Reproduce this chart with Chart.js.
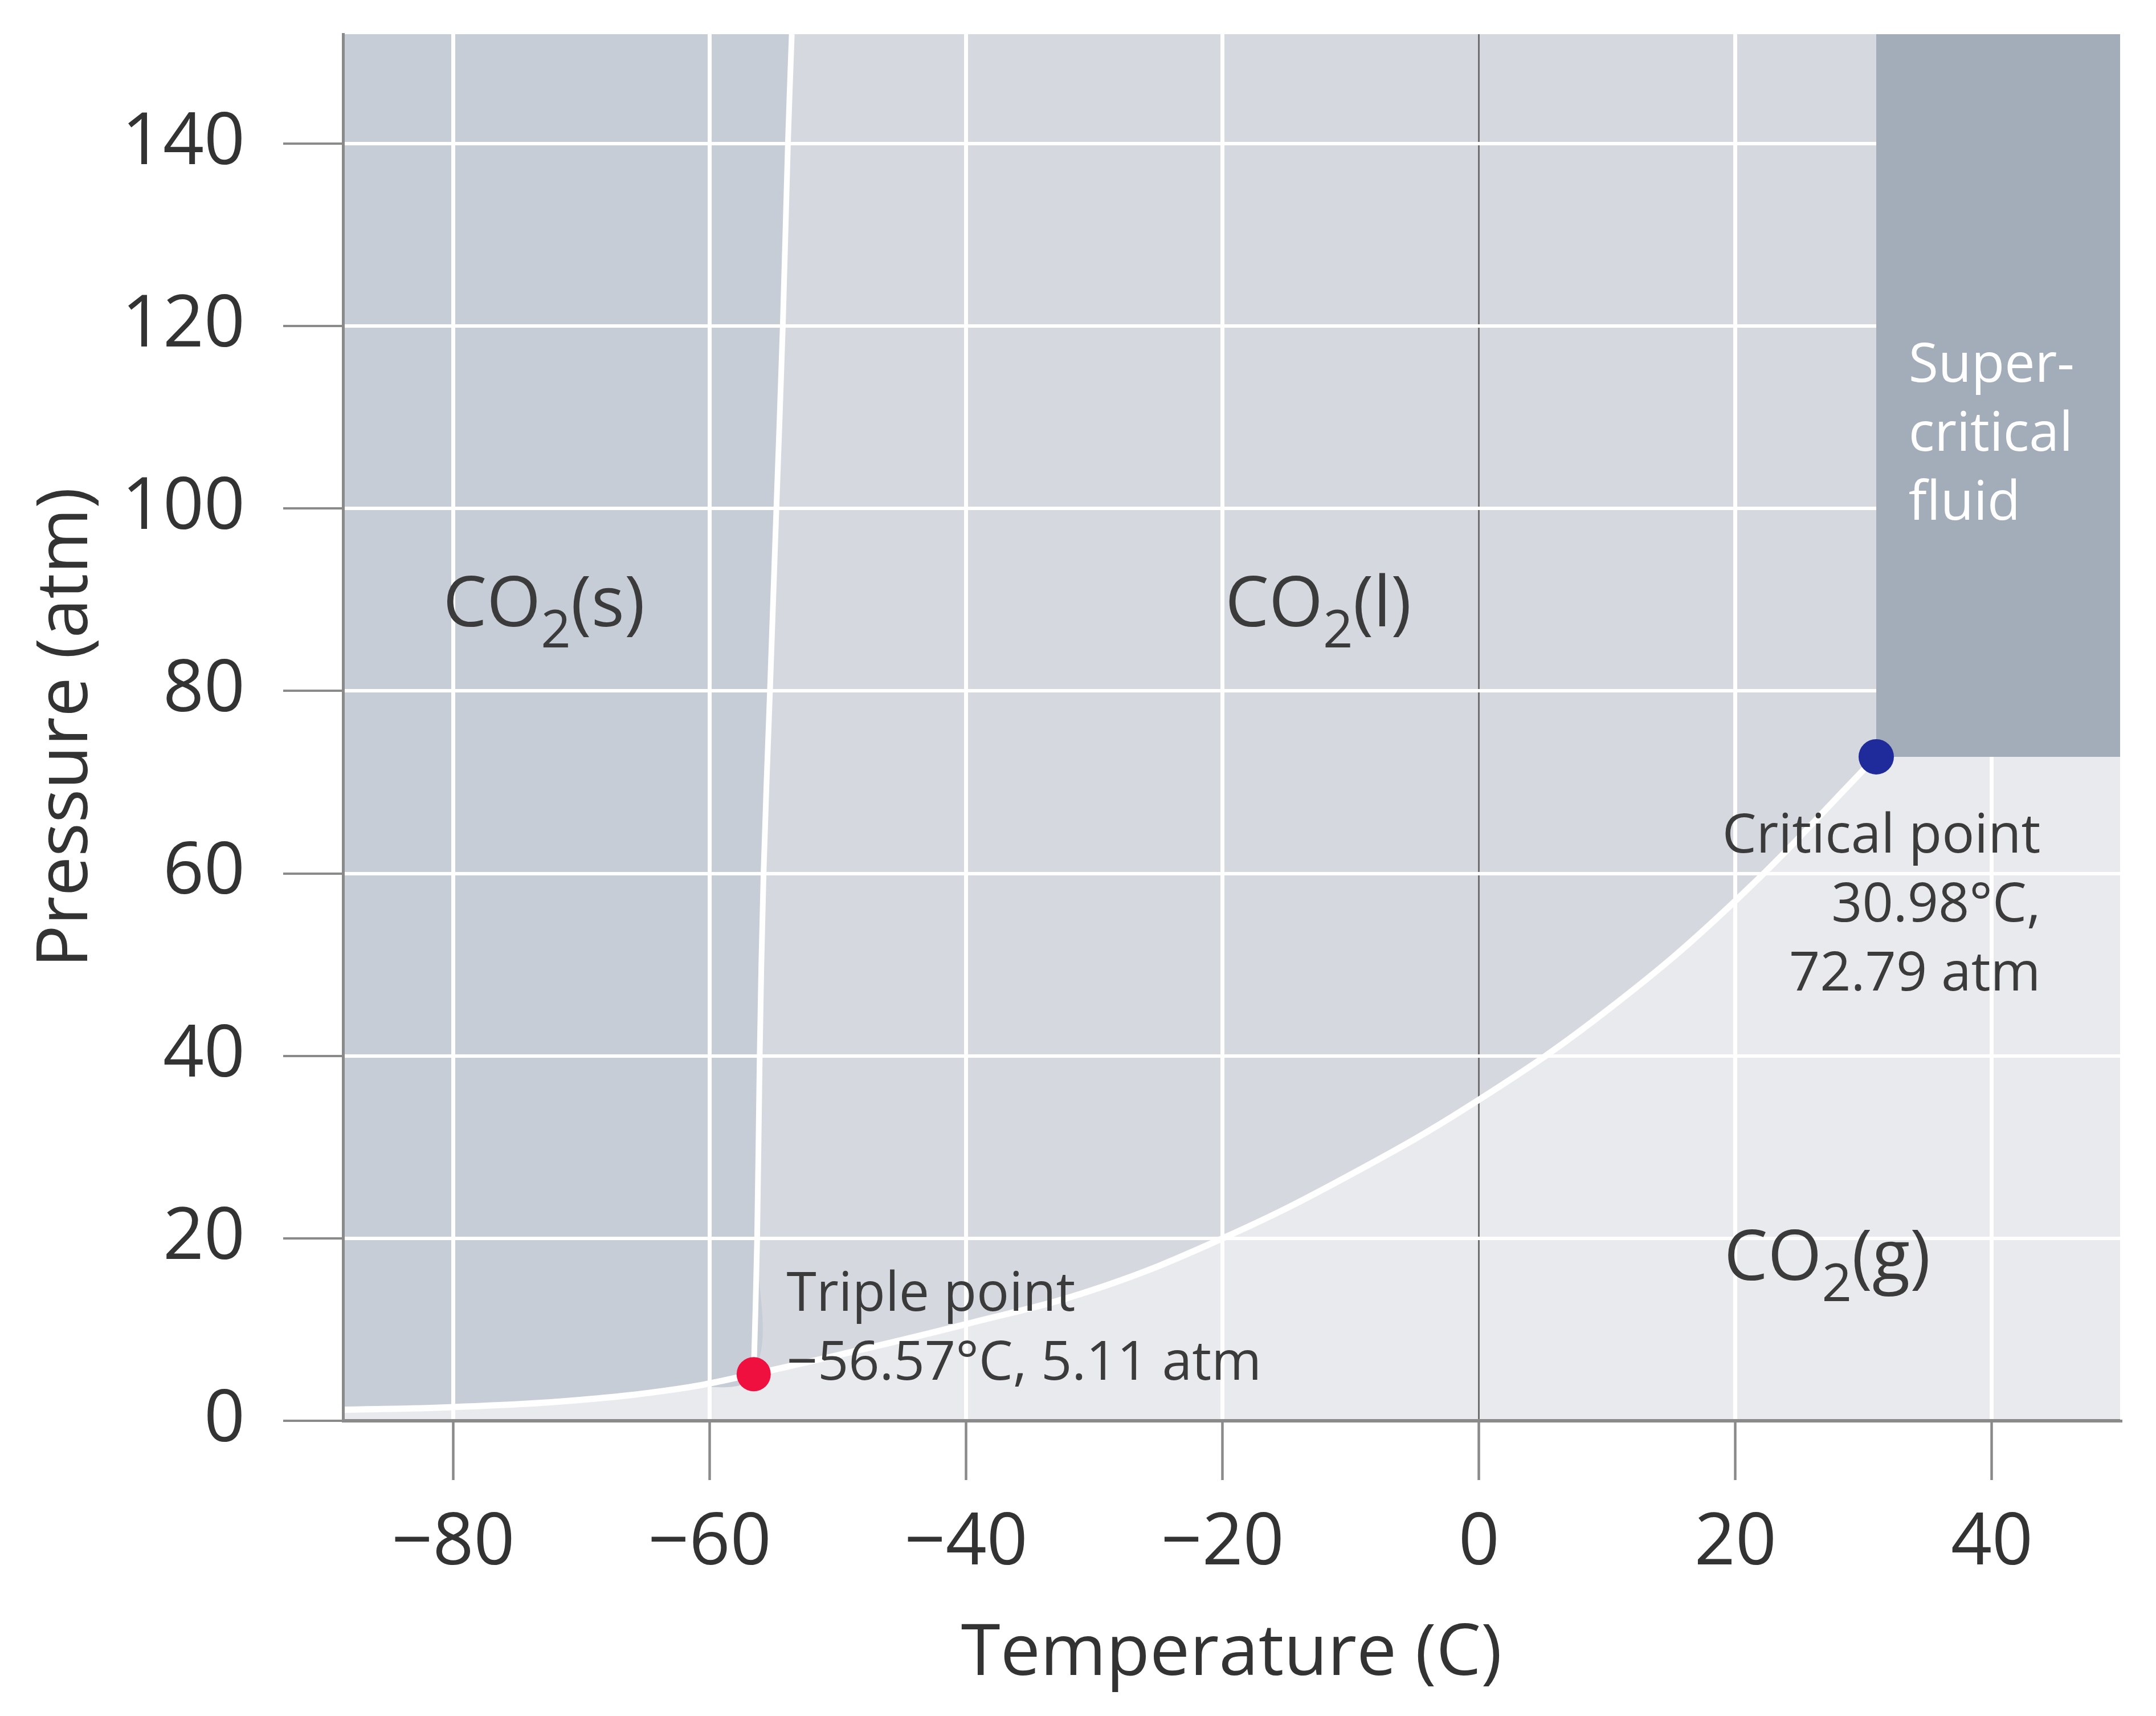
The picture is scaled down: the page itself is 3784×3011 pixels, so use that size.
<!DOCTYPE html>
<html>
<head>
<meta charset="utf-8">
<title>CO2 phase diagram</title>
<script src="https://cdn.jsdelivr.net/npm/chart.js@4.4.1/dist/chart.umd.min.js"></script>
<style>
  body { margin: 0; background: #fff; }
  #wrap { width: 3784px; height: 3011px; }
</style>
</head>
<body>
<div id="wrap"><canvas id="phaseChart" width="3784" height="3011"></canvas></div>
<script>
// axis ranges and ticks
const tempRange = [-88.6, 50];
const pressRange = [0, 152];
const tempTicks = [-80, -60, -40, -20, 0, 20, 40];
const pressTicks = [0, 20, 40, 60, 80, 100, 120, 140];

// solid / gas boundary (sublimation)
const sublimationT = [-88.6, -80, -70, -62, -56.57];
const sublimationP = [1.2, 1.5, 2.3, 3.6, 5.11];

// solid / liquid boundary (melting)
const meltingT = [-56.57, -56.3, -56.1, -55.8, -55.3, -54.8, -54.3, -53.9, -53.6];
const meltingP = [5.11, 20, 40, 60, 80, 100, 120, 140, 152];

// liquid / gas boundary (vaporization)
const vaporT = [-56.57, -50, -40, -30, -20, -10, 0, 10, 20, 30.98];
const vaporP = [5.11, 7.2, 10.6, 14.4, 20.0, 27.0, 35.2, 45.0, 57.0, 72.79];

const triplePoint = [-56.57, 5.11];
const criticalPoint = [30.98, 72.79];

const colors = {
  gas: '#e8eaed',
  liquid: '#d5d9df',
  solid: '#c7cdd6',
  supercritical: '#a3adb9',
  curve: '#ffffff',
  text: '#3b3b3b',
  axis: '#8a8a8a'
};

const pts = (xs, ys) => xs.map((x, i) => ({ x: x, y: ys[i] }));

const solidEdge = pts(sublimationT, sublimationP).concat(pts(meltingT, meltingP).slice(1));

// text placed in data units
const phaseLabels = [
  { main: 'CO', sub: '2', tail: '(s)', t: -80.8, p: 87.1 },
  { main: 'CO', sub: '2', tail: '(l)', t: -19.8, p: 87.1 },
  { main: 'CO', sub: '2', tail: '(g)', t: 19.1, p: 15.4 }
];
const notes = [
  { lines: ['Triple point', '\u221256.57\u00b0C, 5.11 atm'], t: -54.0, p: 12.06, align: 'left', color: colors.text },
  { lines: ['Critical point', '30.98\u00b0C,', '72.79 atm'], t: 43.8, p: 62.3, align: 'right', color: colors.text },
  { lines: ['Super-', 'critical', 'fluid'], t: 33.5, p: 113.9, align: 'left', color: '#ffffff' }
];

Chart.defaults.font.family = "'Open Sans', sans-serif";
Chart.defaults.color = colors.text;

const areaBackground = {
  id: 'areaBackground',
  beforeDraw(chart) {
    const a = chart.chartArea, ctx = chart.ctx;
    ctx.save();
    ctx.fillStyle = colors.gas;
    ctx.fillRect(a.left, a.top, a.right - a.left, a.bottom - a.top);
    ctx.restore();
  }
};

// grid goes over the solid/liquid/gas fills but under the supercritical block
const gridOverRegions = {
  id: 'gridOverRegions',
  afterDatasetDraw(chart, args) {
    if (chart.data.datasets[args.index].label !== 'solid') return;
    chart.scales.x.drawGrid(chart.chartArea);
    chart.scales.y.drawGrid(chart.chartArea);
  }
};

const textLabels = {
  id: 'textLabels',
  afterDatasetsDraw(chart) {
    const ctx = chart.ctx, xs = chart.scales.x, ys = chart.scales.y;
    ctx.save();
    ctx.textBaseline = 'alphabetic';
    phaseLabels.forEach(l => {
      let x = xs.getPixelForValue(l.t);
      const y = ys.getPixelForValue(l.p);
      ctx.fillStyle = colors.text;
      ctx.textAlign = 'left';
      ctx.font = "122px 'Open Sans'";
      ctx.fillText(l.main, x, y);
      x += ctx.measureText(l.main).width;
      ctx.font = "92px 'Open Sans'";
      ctx.fillText(l.sub, x, y + 37);
      x += ctx.measureText(l.sub).width;
      ctx.font = "122px 'Open Sans'";
      ctx.fillText(l.tail, x, y);
    });
    notes.forEach(n => {
      const x = xs.getPixelForValue(n.t);
      const y = ys.getPixelForValue(n.p);
      ctx.fillStyle = n.color;
      ctx.textAlign = n.align;
      ctx.font = "95px 'Open Sans'";
      n.lines.forEach((line, i) => ctx.fillText(line, x, y + i * 121));
    });
    ctx.restore();
  }
};

const fmtTemp = v => (v < 0 ? '\u2212' + Math.abs(v) : String(v));

new Chart(document.getElementById('phaseChart'), {
  type: 'line',
  data: {
    datasets: [
      {
        label: 'liquid',
        data: pts(vaporT, vaporP),
        fill: 'end',
        backgroundColor: colors.liquid,
        borderColor: 'transparent',
        borderWidth: 0,
        pointRadius: 0,
        tension: 0.4,
        order: 10
      },
      {
        label: 'solid',
        data: solidEdge,
        fill: 'end',
        backgroundColor: colors.solid,
        borderColor: 'transparent',
        borderWidth: 0,
        pointRadius: 0,
        tension: 0.4,
        order: 9
      },
      {
        label: 'supercritical',
        data: [{ x: criticalPoint[0], y: criticalPoint[1] }, { x: tempRange[1], y: criticalPoint[1] }],
        fill: 'end',
        backgroundColor: colors.supercritical,
        borderColor: 'transparent',
        borderWidth: 0,
        pointRadius: 0,
        order: 8
      },
      {
        label: 'vaporization',
        data: pts(vaporT, vaporP),
        fill: false,
        borderColor: colors.curve,
        borderWidth: 11,
        pointRadius: 0,
        tension: 0.4,
        order: 7
      },
      {
        label: 'sublimation',
        data: pts(sublimationT, sublimationP),
        fill: false,
        borderColor: colors.curve,
        borderWidth: 11,
        pointRadius: 0,
        tension: 0.4,
        order: 6
      },
      {
        label: 'melting',
        data: pts(meltingT, meltingP),
        fill: false,
        borderColor: colors.curve,
        borderWidth: 10,
        pointRadius: 0,
        tension: 0.4,
        order: 5
      },
      {
        label: 'Triple point',
        data: [{ x: triplePoint[0], y: triplePoint[1] }],
        showLine: false,
        pointRadius: 30,
        pointBackgroundColor: '#ef1040',
        pointBorderWidth: 0,
        order: 2
      },
      {
        label: 'Critical point',
        data: [{ x: criticalPoint[0], y: criticalPoint[1] }],
        showLine: false,
        pointRadius: 31,
        pointBackgroundColor: '#1f2b9b',
        pointBorderWidth: 0,
        order: 1
      }
    ]
  },
  options: {
    responsive: false,
    animation: false,
    events: [],
    devicePixelRatio: 1,
    layout: { padding: { top: 60, right: 63, bottom: 0, left: 0 } },
    plugins: {
      legend: { display: false },
      tooltip: { enabled: false }
    },
    scales: {
      x: {
        type: 'linear',
        min: tempRange[0],
        max: tempRange[1],
        afterBuildTicks: s => { s.ticks = tempTicks.map(v => ({ value: v })); },
        afterFit: s => { s.height = 518; s.paddingLeft = 0; s.paddingRight = 0; },
        grid: {
          color: c => (c.tick && c.tick.value === 0 ? '#6f6f6f' : '#ffffff'),
          lineWidth: c => (c.tick && c.tick.value === 0 ? 3 : 7),
          tickColor: colors.axis,
          tickWidth: 4,
          tickLength: 104
        },
        border: { color: colors.axis, width: 5, z: 1 },
        ticks: {
          callback: fmtTemp,
          font: { size: 126 },
          color: '#333',
          padding: 37,
          maxRotation: 0
        },
        title: {
          display: true,
          text: 'Temperature (C)',
          font: { size: 125 },
          color: '#333',
          padding: { top: 0, bottom: 33 }
        }
      },
      y: {
        type: 'linear',
        min: pressRange[0],
        max: pressRange[1],
        afterBuildTicks: s => { s.ticks = pressTicks.map(v => ({ value: v })); },
        afterFit: s => { s.width = 602; s.paddingTop = 0; s.paddingBottom = 0; },
        grid: {
          color: c => (c.tick && c.tick.value === 0 ? colors.axis : '#ffffff'),
          lineWidth: 6,
          tickColor: colors.axis,
          tickWidth: 4,
          tickLength: 105
        },
        border: { color: colors.axis, width: 5, z: 1 },
        ticks: {
          font: { size: 126, lineHeight: 0.9 },
          color: '#333',
          padding: 67
        },
        title: {
          display: true,
          text: 'Pressure (atm)',
          font: { size: 124 },
          color: '#333',
          padding: { top: 43, bottom: 0 }
        }
      }
    }
  },
  plugins: [areaBackground, gridOverRegions, textLabels]
});
</script>
</body>
</html>
